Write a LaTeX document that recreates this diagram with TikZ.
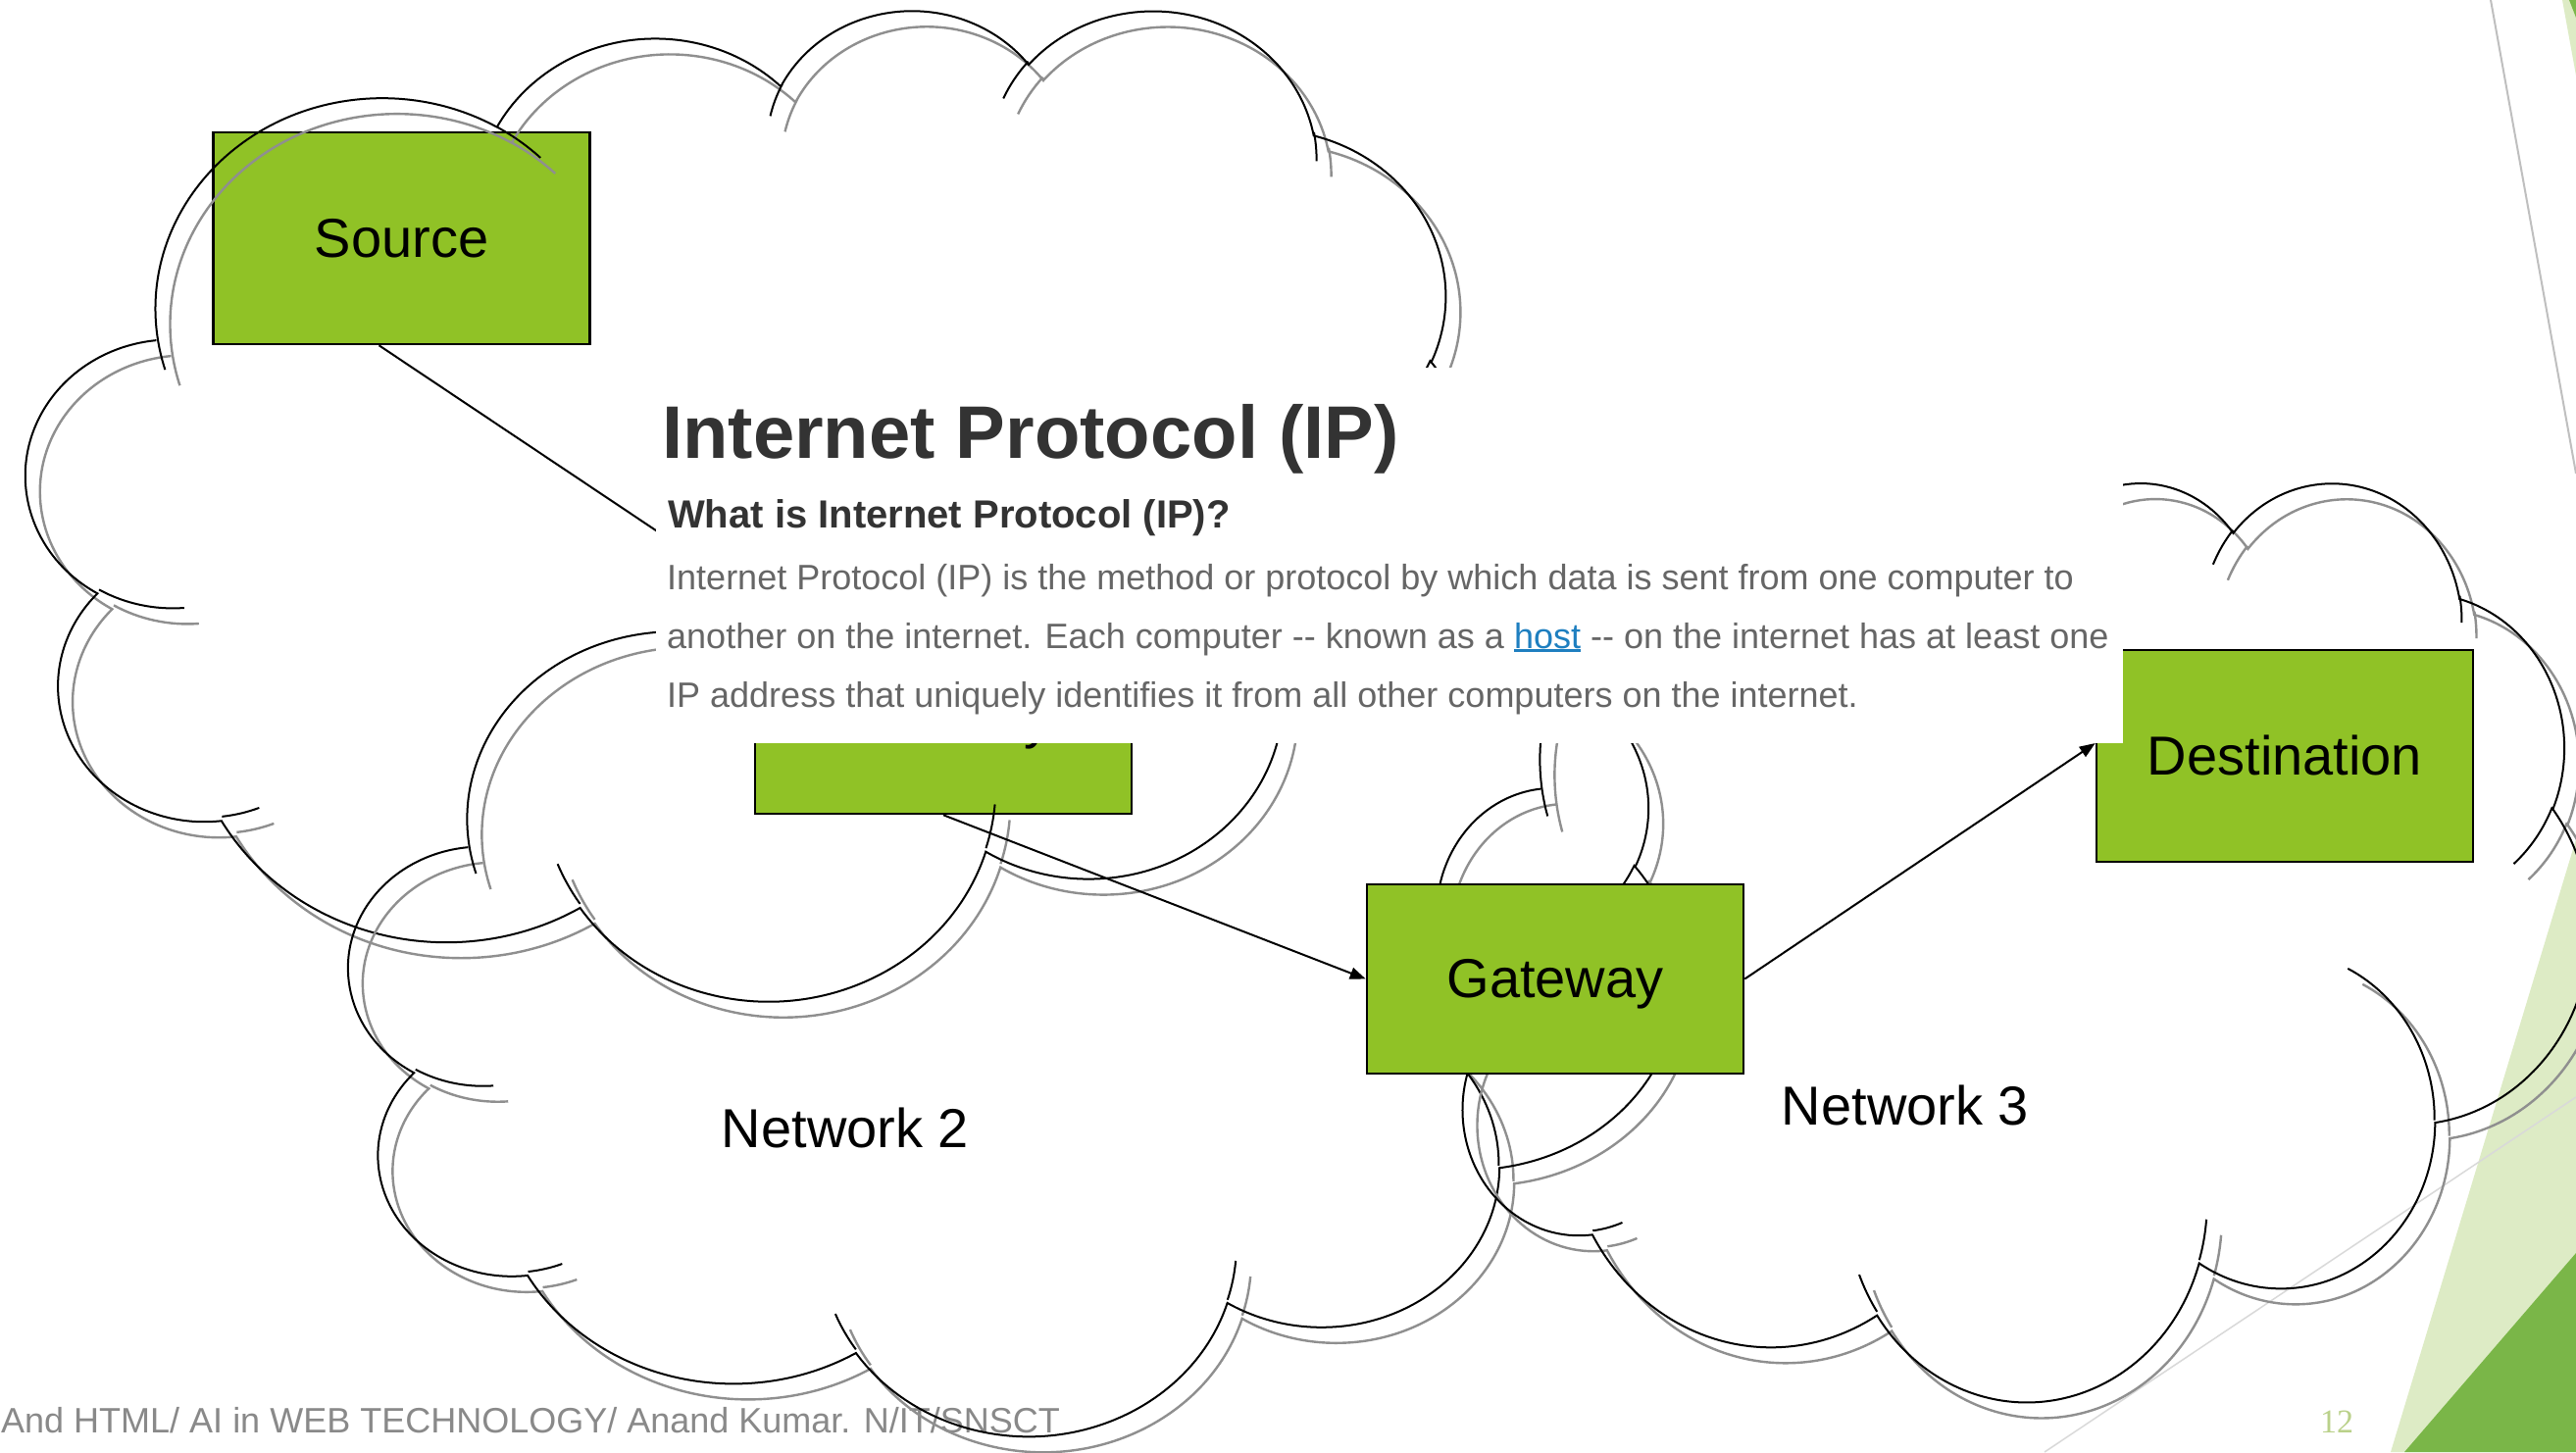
\documentclass[tikz,border=0pt]{standalone}
\usepackage{fontspec}
\setmainfont{Liberation Sans}
\newfontfamily\pagenumfont{Liberation Serif}
\usetikzlibrary{arrows.meta}

\definecolor{boxgreen}{HTML}{90C226}
\definecolor{tintgreen}{HTML}{DDEBC5}
\definecolor{deepgreen}{HTML}{7AB648}
\definecolor{numgreen}{HTML}{BAD18A}
\definecolor{footgray}{HTML}{898989}
\definecolor{shadowgray}{HTML}{8F8F8F}
\definecolor{titlegray}{HTML}{333333}
\definecolor{bodygray}{HTML}{666666}
\definecolor{linkblue}{HTML}{1E7FC0}
\definecolor{rulegray}{HTML}{BFBFBF}
\definecolor{faintgray}{HTML}{D9D9D9}

% One elliptic arc of the cloud outline: radii wR, hR and start/sweep
% angles measured along the ray from the centre (degrees).  The style
% stores the equivalent parametric angles for TikZ's arc operation.
\newcommand\defcloudarc[5]{%
  \pgfmathsetmacro\arcta{atan2((#2)*sin(#4),(#3)*cos(#4))}%
  \pgfmathsetmacro\arctb{atan2((#2)*sin((#4)+(#5)),(#3)*cos((#4)+(#5)))}%
  \pgfmathsetmacro\arctb{\arctb<\arcta ? \arctb+360 : \arctb}%
  \tikzset{#1/.style/.expanded={start angle=\arcta, end angle=\arctb,
      x radius=#2, y radius=#3}}%
}
% outer bumps
\defcloudarc{co1}{6.753}{9.190}{-190.4875}{123.7805}
\defcloudarc{co2}{5.333}{7.267}{-144.1024}{89.9452}
\defcloudarc{co3}{4.365}{5.945}{-145.8079}{99.7230}
\defcloudarc{co4}{4.857}{6.595}{-130.9861}{117.2417}
\defcloudarc{co5}{5.333}{7.273}{-78.7089}{109.0269}
\defcloudarc{co6}{6.775}{9.220}{-46.2673}{130.2690}
\defcloudarc{co7}{5.785}{7.867}{0.6250}{114.0333}
\defcloudarc{co8}{6.752}{9.215}{22.4516}{115.1726}
\defcloudarc{co9}{7.720}{10.543}{66.2426}{75.7110}
\defcloudarc{co10}{4.360}{5.918}{-274.9421}{146.7356}
\defcloudarc{co11}{4.345}{5.945}{-246.8285}{152.5189}
% inner continuations of the bumps
\defcloudarc{ci1}{4.345}{5.945}{86.7420}{26.4295}
\defcloudarc{ci2}{4.360}{5.918}{73.6105}{11.4475}
\defcloudarc{ci3}{6.752}{9.215}{137.6242}{14.0811}
\defcloudarc{ci4}{6.752}{9.215}{6.4533}{15.9984}
\defcloudarc{ci5}{5.785}{7.867}{-70.2924}{70.9174}
\defcloudarc{ci6}{5.333}{7.273}{30.3180}{27.7515}
\defcloudarc{ci7}{4.857}{6.595}{-13.7443}{14.8589}
\defcloudarc{ci8}{4.857}{6.595}{-149.1815}{18.1954}
\defcloudarc{ci9}{4.365}{5.945}{-163.4943}{17.6864}
\defcloudarc{ci10}{6.753}{9.190}{-66.7070}{12.3194}
\defcloudarc{ci11}{6.753}{9.190}{157.6544}{11.8582}

% cloud outline in a 43.2 x 43.2 box, y pointing down
\newcommand\cloudoutline{%
  (3.900,14.370) arc[co1] arc[co2] arc[co3] arc[co4] arc[co5] arc[co6]
  arc[co7] arc[co8] arc[co9] arc[co10] arc[co11]
  (4.693,26.177) arc[ci1]
  (6.928,34.899) arc[ci2]
  (16.478,39.090) arc[ci3]
  (28.827,34.751) arc[ci4]
  (34.129,22.954) arc[ci5]
  (41.798,15.354) arc[ci6]
  (38.324,5.426) arc[ci7]
  (29.078,3.952) arc[ci8]
  (22.141,4.720) arc[ci9]
  (14.000,5.192) arc[ci10]
  (4.127,15.789) arc[ci11]}

% cloud with its offset shadow: left, top, width, height
\newcommand\drawcloud[4]{%
  \pgfmathsetmacro\cloudsx{(#3)/43.2}%
  \pgfmathsetmacro\cloudsy{(#4)/43.2}%
  \begin{scope}[shift={(#1+15,#2+16)}, x=\cloudsx pt, y=-\cloudsy pt]
    \draw[cloudshadow] \cloudoutline;
  \end{scope}
  \begin{scope}[shift={(#1,#2)}, x=\cloudsx pt, y=-\cloudsy pt]
    \draw[cloudline] \cloudoutline;
  \end{scope}%
}

\newcommand\hostlink{{\color{linkblue}\sbox0{host}%
  \rlap{\rule[-3.5pt]{\wd0}{2.2pt}}\usebox0}}

\begin{document}
\begin{tikzpicture}[x=1pt, y=-1pt,
  netbox/.style={draw=black, line width=2.5pt, fill=boxgreen, inner sep=0pt,
    minimum width=384pt, font=\fontsize{56}{67}\selectfont,
    text height=50.7pt, text depth=11.9pt},
  netlabel/.style={anchor=base, inner sep=0pt, font=\fontsize{56}{67}\selectfont},
  conn/.style={line width=2pt, draw=black},
  arr/.style={conn, -{Triangle[length=16pt,width=12pt]}},
  cloudline/.style={line width=2pt, draw=black},
  cloudshadow/.style={line width=2.4pt, draw=shadowgray},
  shottext/.style={anchor=base west, inner sep=0pt},
]
\useasboundingbox (0,0) rectangle (2627,1481);
\fill[white] (0,0) rectangle (2627,1481);

% slide decoration on the right edge
\draw[rulegray, line width=2pt] (2540,0) -- (2627,483);
\fill[tintgreen] (2613,0) -- (2627,0) -- (2627,77) -- cycle;
\fill[deepgreen] (2620,0) -- (2627,0) -- (2627,18) -- cycle;
\fill[tintgreen] (2438,1481) -- (2627,856) -- (2627,1481) -- cycle;
\fill[deepgreen] (2452,1481) -- (2627,1278) -- (2627,1481) -- cycle;
\draw[faintgray, line width=1.5pt] (2085,1481) -- (2627,1119);

% footer and slide number
\node[shottext, text=footgray, font=\fontsize{36}{43}\selectfont] (footer)
  at (1,1461) {And HTML/ AI in WEB TECHNOLOGY/ Anand Kumar. N/IT/SNSCT};
\node[shottext, text=numgreen, font=\pagenumfont\fontsize{34}{40}\selectfont]
  (pgnum) at (2366,1461) {12};

% hosts inside the first two networks
\node[netbox, minimum height=216pt] (src) at (409.5,243) {Source};
\node[netbox, minimum height=193pt] (gw1) at (962,733.5) {Gateway};
\coordinate (gw1in) at (817,640);
\draw[conn] ([xshift=-23pt]src.south) -- (gw1in);

% the three networks
\drawcloud{27}{8}{1480}{1010}
\drawcloud{356}{562}{1355}{900}
\drawcloud{1466}{490}{1175}{937}

\node[netlabel] (net2) at (862,1170) {Network 2};
\node[netlabel] (net3) at (1943,1147) {Network 3};

\node[netbox, minimum height=193pt] (gw2) at (1586,998.5) {Gateway};
\node[netbox, minimum height=216pt] (dest) at (2330,771) {Destination};

\draw[arr] (gw1.south) -- (gw2.west);
\draw[arr] (gw2.east) -- ([yshift=13pt]dest.west);

% article excerpt laid over the diagram
\node[fill=white, inner sep=0pt, minimum width=1496pt, minimum height=383pt,
  anchor=north west] (ipshot) at (669,375) {};
\node[shottext, text=titlegray, font=\fontsize{76}{90}\selectfont\bfseries]
  (iptitle) at (675,467) {Internet Protocol (IP)};
\node[shottext, text=titlegray, font=\fontsize{40}{48}\selectfont\bfseries]
  (ipquestion) at (681,538) {What is Internet Protocol (IP)?};
\node[shottext, text=bodygray, font=\fontsize{36}{43}\selectfont] (ipline1)
  at (680,601) {Internet Protocol (IP) is the method or protocol by which data is sent from one computer to};
\node[shottext, text=bodygray, font=\fontsize{36}{43}\selectfont] (ipline2)
  at (680,661) {another on the internet. Each computer -{}- known as a \hostlink{} -{}- on the internet has at least one};
\node[shottext, text=bodygray, font=\fontsize{36}{43}\selectfont] (ipline3)
  at (680,721) {IP address that uniquely identifies it from all other computers on the internet.};
\end{tikzpicture}
\end{document}
